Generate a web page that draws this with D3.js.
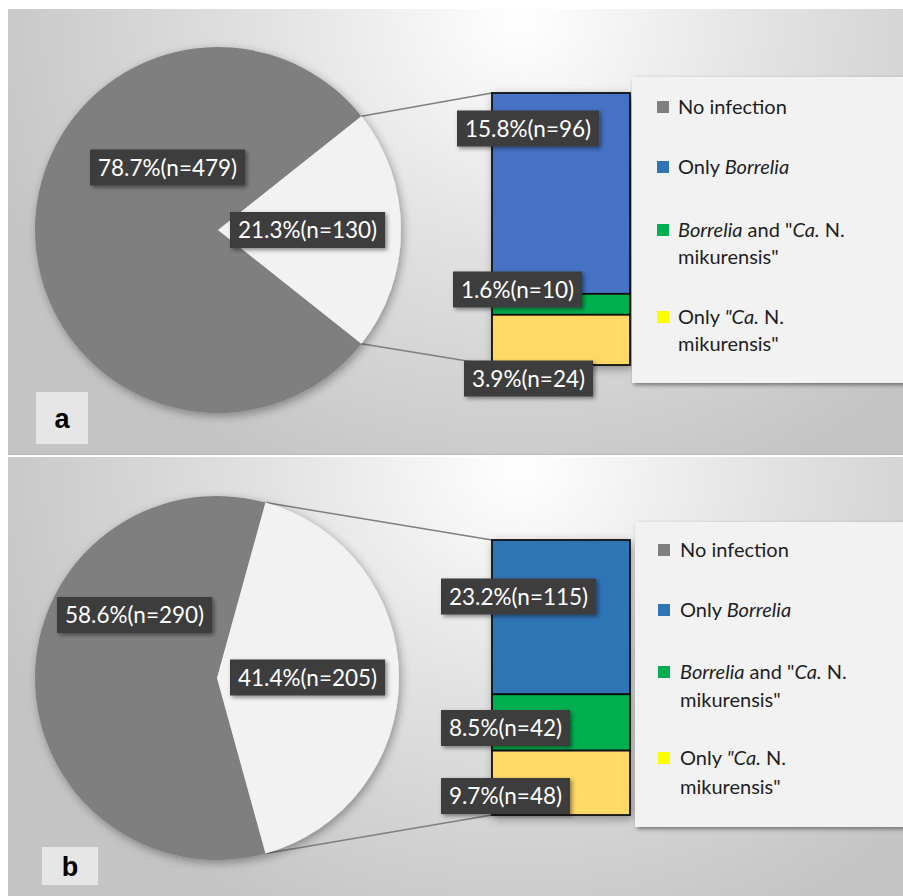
<!DOCTYPE html>
<html><head><meta charset="utf-8">
<script src="https://cdn.jsdelivr.net/npm/d3@7"></script>
<style>body{margin:0;background:#fff}svg{display:block}</style>
</head><body>
<script>
// ---------- DATA ----------
const categories = ["No infection", "Only Borrelia", "Borrelia and \"Ca. N. mikurensis\"", "Only \"Ca. N. mikurensis\""];
const panelIds = ["a", "b"];
const pieValuesA = [479, 130];      // No infection, infected (Other)
const barValuesA = [96, 10, 24];    // Only Borrelia, Both, Only Ca. N. mikurensis
const pieValuesB = [290, 205];
const barValuesB = [115, 42, 48];

const pieColors = ["#7f7f7f", "#f2f2f2"];
const barColorsA = ["#4472c4", "#00b050", "#ffd966"];
const barColorsB = ["#2e75b6", "#00b050", "#ffd966"];
const legendColors = ["#7f7f7f", "#2e75b6", "#00b050", "#ffff00"];

// legend text (segments: [text, italic])
const legendLines = [
  [[["No infection", false]]],
  [[["Only ", false], ["Borrelia", true]]],
  [[["Borrelia", true], [" and \"", false], ["Ca.", true], [" N.", false]], [["mikurensis\"", false]]],
  [[["Only ", false], ["\"Ca.", true], [" N.", false]], [["mikurensis\"", false]]]
];

// ---------- LAYOUT ----------
const W = 903, H = 896;
const layouts = [
  { y0: 9, y1: 455, cx: 218, cy: 230, r: 183,
    bar: {x0: 492, x1: 630, y0: 93, y1: 365},
    legend: {x: 632, y: 77, w: 280, h: 306, sqX: 657, txtX: 678, rows: [[107], [167], [230, 257], [317, 344]]},
    pieLabels: [[90, 167.5], [230, 230]],
    barLabels: [[457, 128.5], [453, 289.5], [464, 378.5]],
    tag: {x: 36, y: 392, w: 52, h: 52},
    pie: pieValuesA, barv: barValuesA, barColors: barColorsA },
  { y0: 457, y1: 896, cx: 217, cy: 678, r: 182,
    bar: {x0: 492, x1: 630, y0: 540, y1: 815},
    legend: {x: 635, y: 522, w: 280, h: 305, sqX: 658, txtX: 680, rows: [[550], [610], [672, 700], [758, 787]]},
    pieLabels: [[57, 615], [230, 677.5]],
    barLabels: [[441, 596.5], [441, 728], [441, 796]],
    tag: {x: 42, y: 847, w: 56, h: 38},
    pie: pieValuesB, barv: barValuesB, barColors: barColorsB }
];

const svg = d3.select("body").append("svg").attr("width", W).attr("height", H);
const defs = svg.append("defs");

layouts.forEach((L, i) => {
  const g = defs.append("radialGradient").attr("id", "bg" + i)
    .attr("gradientUnits", "userSpaceOnUse")
    .attr("cx", 520).attr("cy", L.y0 + 10).attr("r", 560)
    .attr("gradientTransform", `translate(520,${L.y0 + 10}) scale(1,0.9) translate(-520,${-(L.y0 + 10)})`);
  g.append("stop").attr("offset", "0").attr("stop-color", "#ffffff");
  g.append("stop").attr("offset", "0.45").attr("stop-color", "#e2e2e2");
  g.append("stop").attr("offset", "1").attr("stop-color", "#c4c4c4");
});
const sh = defs.append("filter").attr("id", "shadow").attr("x", "-20%").attr("y", "-20%").attr("width", "150%").attr("height", "150%");
sh.append("feDropShadow").attr("dx", 2).attr("dy", 3).attr("stdDeviation", 5).attr("flood-color", "#000").attr("flood-opacity", 0.35);
const shs = defs.append("filter").attr("id", "shadowS").attr("x", "-20%").attr("y", "-30%").attr("width", "150%").attr("height", "170%");
shs.append("feDropShadow").attr("dx", 2).attr("dy", 2).attr("stdDeviation", 2).attr("flood-color", "#000").attr("flood-opacity", 0.45);

const fmt = (v, tot) => (v / tot * 100).toFixed(1) + "%(n=" + v + ")";

layouts.forEach((L, pi) => {
  const G = svg.append("g");
  // background
  G.append("rect").attr("x", 8).attr("y", L.y0).attr("width", W - 8).attr("height", L.y1 - L.y0)
    .attr("fill", `url(#bg${pi})`);
  if (pi === 0) G.append("line").attr("x1", 8).attr("x2", W).attr("y1", L.y1 - 0.5).attr("y2", L.y1 - 0.5)
    .attr("stroke", "#b8b8b8").attr("stroke-width", 1);

  const total = d3.sum(L.pie);
  const otherAngle = L.pie[1] / total * 2 * Math.PI;
  const start = Math.PI / 2 + otherAngle / 2;
  const arcs = d3.pie().sort(null).startAngle(start).endAngle(start + 2 * Math.PI)(L.pie);
  const arc = d3.arc().innerRadius(0).outerRadius(L.r);

  // bar scale
  const y = d3.scaleLinear().domain([0, L.pie[1]]).range([L.bar.y0, L.bar.y1]);
  const stacked = [];
  let acc = 0;
  L.barv.forEach(v => { stacked.push([acc, acc + v]); acc += v; });

  // connector lines from the slice edges to the bar
  const pUp = [L.cx + L.r * Math.sin(arcs[1].startAngle), L.cy - L.r * Math.cos(arcs[1].startAngle)];
  const pDown = [L.cx + L.r * Math.sin(arcs[1].endAngle), L.cy - L.r * Math.cos(arcs[1].endAngle)];
  G.append("line").attr("x1", pUp[0]).attr("y1", pUp[1]).attr("x2", L.bar.x0).attr("y2", y(0))
    .attr("stroke", "#7f7f7f").attr("stroke-width", 1.5);
  G.append("line").attr("x1", pDown[0]).attr("y1", pDown[1]).attr("x2", L.bar.x0).attr("y2", y(L.pie[1]))
    .attr("stroke", "#7f7f7f").attr("stroke-width", 1.5);

  // pie
  const pg = G.append("g").attr("transform", `translate(${L.cx},${L.cy})`).attr("filter", "url(#shadow)");
  pg.selectAll("path").data(arcs).join("path").attr("d", arc).attr("fill", (d, i) => pieColors[i]);

  const bg = G.append("g").attr("filter", "url(#shadow)");
  bg.selectAll("rect").data(stacked).join("rect")
    .attr("x", L.bar.x0).attr("width", L.bar.x1 - L.bar.x0)
    .attr("y", d => y(d[0])).attr("height", d => y(d[1]) - y(d[0]))
    .attr("fill", (d, i) => L.barColors[i]).attr("stroke", "#111").attr("stroke-width", 1.8);

  // legend
  const lg = L.legend;
  G.append("rect").attr("x", lg.x).attr("y", lg.y).attr("width", lg.w).attr("height", lg.h)
    .attr("fill", "#f2f2f2").attr("filter", "url(#shadowS)");
  categories.forEach((c, ci) => {
    const rows = lg.rows[ci];
    G.append("rect").attr("x", lg.sqX).attr("y", rows[0] - 6).attr("width", 12).attr("height", 12)
      .attr("fill", legendColors[ci]);
    legendLines[ci].forEach((line, li) => {
      const t = G.append("text").attr("x", lg.txtX).attr("y", rows[li]).attr("dy", "0.35em")
        .attr("font-family", "Lato, 'Open Sans', sans-serif").attr("font-size", 20).attr("fill", "#1e1e1e");
      line.forEach(([s, it]) => t.append("tspan").text(s).attr("font-style", it ? "italic" : "normal"));
    });
  });

  // data labels
  const labels = [];
  L.pie.forEach((v, i) => labels.push({ text: fmt(v, total), pos: L.pieLabels[i] }));
  L.barv.forEach((v, i) => labels.push({ text: fmt(v, total), pos: L.barLabels[i] }));
  labels.forEach(lb => {
    const lgG = G.append("g");
    const box = lgG.append("rect").attr("fill", "#3c3c3c").attr("filter", "url(#shadowS)");
    const t = lgG.append("text").text(lb.text).attr("y", lb.pos[1]).attr("dy", "0.36em")
      .attr("font-family", "Lato, 'Open Sans', sans-serif").attr("font-size", 22.5).attr("fill", "#ffffff");
    const w = t.node().getComputedTextLength();
    t.attr("x", lb.pos[0] + 8);
    box.attr("x", lb.pos[0]).attr("y", lb.pos[1] - 18).attr("width", w + 16).attr("height", 36);
  });

  // panel tag
  G.append("rect").attr("x", L.tag.x).attr("y", L.tag.y).attr("width", L.tag.w).attr("height", L.tag.h)
    .attr("fill", "#e6e6e6");
  G.append("text").text(panelIds[pi]).attr("x", L.tag.x + L.tag.w / 2).attr("y", L.tag.y + L.tag.h / 2)
    .attr("dy", "0.36em").attr("text-anchor", "middle")
    .attr("font-family", "'Liberation Sans', Arial, sans-serif").attr("font-weight", "bold").attr("font-size", 27).attr("fill", "#000");
});
</script>
</body></html>
